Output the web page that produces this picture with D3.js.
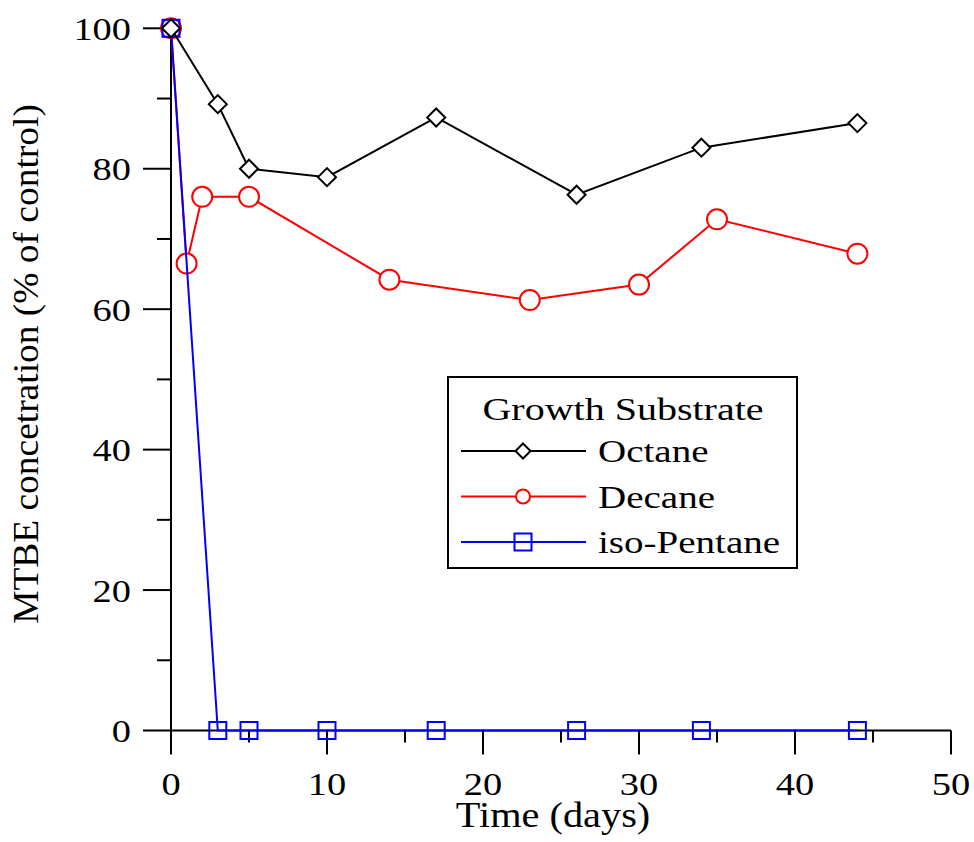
<!doctype html>
<html lang="en">
<head>
<meta charset="utf-8">
<style>
  body { margin: 0; background: #fff; }
  svg { display: block; }
  text { font-family: "Liberation Serif", "Times New Roman", serif; fill: #000; }
</style>
</head>
<body>
<script src="https://cdn.jsdelivr.net/npm/d3@7"></script>
<script>
// data
var octaneDays = [0, 3, 5, 10, 17, 26, 34, 44];
var octaneVals = [100, 89.2, 80, 78.8, 87.3, 76.3, 83, 86.5];
var decaneDays = [0, 1, 2, 5, 14, 23, 30, 35, 44];
var decaneVals = [100, 66.5, 76, 76, 64.2, 61.3, 63.5, 72.8, 67.9];
var pentaneDays = [0, 3, 5, 10, 17, 26, 34, 44];
var pentaneVals = [100, 0, 0, 0, 0, 0, 0, 0];
var xTicks = [0, 10, 20, 30, 40, 50];
var yTicks = [0, 20, 40, 60, 80, 100];
var xMinor = [5, 15, 25, 35, 45];
var yMinor = [10, 30, 50, 70, 90];
var names = ["Octane", "Decane", "iso-Pentane"];

var width = 974, height = 842;

var svg = d3.select("body").append("svg")
  .attr("width", width)
  .attr("height", height);

var x = d3.scaleLinear().domain([0, 50]).range([171, 951]);
var y = d3.scaleLinear().domain([0, 100]).range([730.5, 28.3]);

// the original text is drawn a bit wider than normal, so stretch it horizontally
function stretchedText(g, tx, ty, str, anchor, size, sx, rot) {
  return g.append("text")
    .attr("transform", "translate(" + tx + "," + ty + ")" + (rot ? " rotate(" + rot + ")" : "") + " scale(" + sx + ",1)")
    .attr("text-anchor", anchor)
    .style("font-size", size + "px")
    .text(str);
}

// axes
var ax = svg.append("g").attr("stroke", "#000").attr("stroke-width", 2);
ax.append("line").attr("x1", x(0)).attr("x2", x(50)).attr("y1", y(0)).attr("y2", y(0));
ax.append("line").attr("x1", x(0)).attr("x2", x(0)).attr("y1", y(100)).attr("y2", y(0));

ax.selectAll(".xt").data(xTicks).enter().append("line")
  .attr("x1", function(d){ return x(d); }).attr("x2", function(d){ return x(d); })
  .attr("y1", y(0)).attr("y2", y(0) + 24);
ax.selectAll(".xm").data(xMinor).enter().append("line")
  .attr("x1", function(d){ return x(d); }).attr("x2", function(d){ return x(d); })
  .attr("y1", y(0)).attr("y2", y(0) + 12);
ax.selectAll(".yt").data(yTicks).enter().append("line")
  .attr("x1", x(0) - 28).attr("x2", x(0))
  .attr("y1", function(d){ return y(d); }).attr("y2", function(d){ return y(d); });
ax.selectAll(".ym").data(yMinor).enter().append("line")
  .attr("x1", x(0) - 14).attr("x2", x(0))
  .attr("y1", function(d){ return y(d); }).attr("y2", function(d){ return y(d); });

var labels = svg.append("g");
xTicks.forEach(function(d){ stretchedText(labels, x(d), 795, d, "middle", 32, 1.2); });
yTicks.forEach(function(d){ stretchedText(labels, 131, y(d) + 11.5, d, "end", 32, 1.2); });
stretchedText(labels, 553, 827, "Time (days)", "middle", 36, 1.12);
stretchedText(labels, 38, 364, "MTBE concetration (% of control)", "middle", 36, 1.04, -90);

// series
var line = d3.line()
  .x(function(d){ return x(d[0]); })
  .y(function(d){ return y(d[1]); });

var series = [
  { days: decaneDays, vals: decaneVals, color: "#ff0000", mark: "circle" },
  { days: pentaneDays, vals: pentaneVals, color: "#0000ff", mark: "square" },
  { days: octaneDays, vals: octaneVals, color: "#000000", mark: "diamond" }
];

function drawMark(g, m, color, cx, cy, small) {
  if (m === "circle") {
    g.append("circle").attr("cx", cx).attr("cy", cy).attr("r", small ? 7 : 10)
      .attr("fill", "#fff").attr("stroke", color).attr("stroke-width", 2);
  } else if (m === "square") {
    var s = 17;
    g.append("rect").attr("x", cx - s / 2).attr("y", cy - s / 2).attr("width", s).attr("height", s)
      .attr("fill", "none").attr("stroke", color).attr("stroke-width", 2);
  } else {
    var h = small ? 7.5 : 9;
    g.append("path")
      .attr("d", "M" + cx + "," + (cy - h) + "L" + (cx + h) + "," + cy + "L" + cx + "," + (cy + h) + "L" + (cx - h) + "," + cy + "Z")
      .attr("fill", "#fff").attr("stroke", color).attr("stroke-width", 2);
  }
}

series.forEach(function(s) {
  var pts = s.days.map(function(d, i){ return [d, s.vals[i]]; });
  var g = svg.append("g");
  g.append("path").datum(pts)
    .attr("d", line)
    .attr("fill", "none")
    .attr("stroke", s.color)
    .attr("stroke-width", 2);
  pts.forEach(function(p){ drawMark(g, s.mark, s.color, x(p[0]), y(p[1]), false); });
});

// legend
var legendSeries = [series[2], series[0], series[1]];
var lg = svg.append("g");
lg.append("rect").attr("x", 448).attr("y", 377).attr("width", 349).attr("height", 191)
  .attr("fill", "#fff").attr("stroke", "#000").attr("stroke-width", 2);
stretchedText(lg, 623, 420, "Growth Substrate", "middle", 32, 1.25);
legendSeries.forEach(function(s, i) {
  var ly = 451 + i * 45.5;
  lg.append("line").attr("x1", 461).attr("x2", 586).attr("y1", ly).attr("y2", ly)
    .attr("stroke", s.color).attr("stroke-width", 2);
  drawMark(lg, s.mark, s.color, 523, ly, true);
  stretchedText(lg, 598, ly + 11, names[i], "start", 32, 1.22);
});
</script>
</body>
</html>
